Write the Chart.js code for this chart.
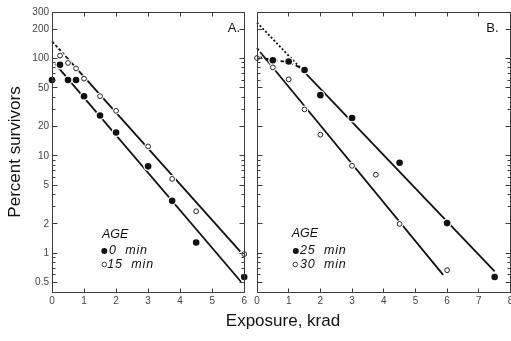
<!DOCTYPE html>
<html>
<head>
<meta charset="utf-8">
<script src="https://cdn.jsdelivr.net/npm/chart.js@4.4.0/dist/chart.umd.min.js"></script>
<style>
  html, body { margin: 0; padding: 0; background: #fff; overflow: hidden; }
  #wrap { position: relative; width: 511px; height: 341px; overflow: hidden; }
  #panelA { position: absolute; left: 0; top: 0; }
  #panelB { position: absolute; left: 250px; top: 0; }
  #xTitle {
    position: absolute; left: 183px; width: 200px; top: 311px;
    line-height: 20px; text-align: center; color: #111;
    font: 17px "Liberation Sans", Arial, sans-serif;
  }
</style>
</head>
<body>
<div id="wrap">
  <canvas id="panelA" width="250" height="341"></canvas>
  <canvas id="panelB" width="270" height="341"></canvas>
  <div id="xTitle">Exposure, krad</div>
</div>
<script>
// ---- values ----
// Panel A: age 0 min (filled) and 15 min (open)
const doseA0 = [0, 0.25, 0.5, 0.75, 1, 1.5, 2, 3, 3.75, 4.5, 6];
const survA0 = [60, 86, 60, 60, 41, 26, 17.4, 7.8, 3.45, 1.29, 0.57];
const doseA15 = [0.25, 0.5, 0.75, 1, 1.5, 2, 3, 3.75, 4.5, 6];
const survA15 = [107, 90, 79, 62, 41, 29, 12.5, 5.8, 2.7, 0.98];

// Panel B: age 25 min (filled) and 30 min (open)
const doseB25 = [0.5, 1, 1.5, 2, 3, 4.5, 6, 7.5];
const survB25 = [96, 93, 76, 42, 24.5, 8.5, 2.04, 0.57];
const doseB30 = [0, 0.5, 1, 1.5, 2, 3, 3.75, 4.5, 6];
const survB30 = [101, 81, 61, 30, 16.5, 7.9, 6.4, 2.0, 0.67];

// fitted lines (first segment dashed where the figure extrapolates)
const fitA0X = [0.1, 5.9];
const fitA0Y = [88, 0.51];
const fitA15X = [0, 0.45, 5.88];
const fitA15Y = [150, 103, 1.04];
const fitB25X = [0, 1.4, 7.5];
const fitB25Y = [234, 78, 0.65];
const shoulderB25X = [0, 0.5, 1, 1.45];
const shoulderB25Y = [105, 96, 92, 78];
const fitB30X = [0, 0.15, 5.875];
const fitB30Y = [128, 111, 0.6];

// axes
const yTickLabels = [0.5, 1, 2, 5, 10, 20, 50, 100, 200, 300];
const xTicksA = [0, 1, 2, 3, 4, 5, 6];
const xTicksB = [0, 1, 2, 3, 4, 5, 6, 7, 8];
const legendA = ['0 min', '15 min'];
const legendB = ['25 min', '30 min'];

const FONT = '"Liberation Sans", Arial, Helvetica, sans-serif';
const INK = '#111';

// log minor ticks at every integer multiple
const yTicks = [];
for (let e = -1; e <= 2; e++) {
    for (let m = 1; m <= 9; m++) {
        const v = +(m * Math.pow(10, e)).toPrecision(2);
        if (v >= 0.4 && v <= 300) yTicks.push(v);
    }
}

const pts = (xs, ys) => xs.map((x, i) => ({ x: x, y: ys[i] }));

function filledSet(xs, ys) {
    return { data: pts(xs, ys), pointRadius: 3.3, pointBackgroundColor: INK,
             pointBorderWidth: 0, showLine: false, clip: false, order: 0 };
}
function openSet(xs, ys) {
    return { data: pts(xs, ys), pointRadius: 2.4, pointBackgroundColor: '#fff',
             pointBorderColor: '#222', pointBorderWidth: 1, showLine: false, clip: false, order: 0 };
}
function haloSet(xs, ys, r) {
    return { data: pts(xs, ys), pointRadius: r, pointBackgroundColor: '#fff',
             pointBorderWidth: 0, showLine: false, clip: false, order: 1 };
}
function lineSet(xs, ys, firstDash, allDash) {
    return {
        data: pts(xs, ys), showLine: true, pointRadius: 0, borderColor: INK,
        borderWidth: 1.8, tension: 0, clip: false, order: 2,
        borderDash: allDash || [],
        segment: firstDash ? { borderDash: ctx => ctx.p0DataIndex === 0 ? firstDash : [] } : undefined
    };
}

// frame, inward ticks, panel letter and AGE legend
const decor = {
    id: 'decor',
    afterDatasetsDraw(chart, args, o) {
        const { ctx, chartArea: a } = chart;
        const xs = chart.scales.x, ys = chart.scales.y;
        const L = Math.floor(a.left) + 0.5, R = Math.floor(a.right) + 0.5;
        const T = Math.floor(a.top) + 0.5, B = Math.floor(a.bottom) + 0.5;
        ctx.save();
        ctx.strokeStyle = '#3c3c3c';
        ctx.lineWidth = 1;
        ctx.strokeRect(L, T, R - L, B - T);
        ctx.beginPath();
        ys.ticks.forEach(t => {
            const py = Math.floor(ys.getPixelForValue(t.value)) + 0.5;
            const len = yTickLabels.includes(t.value) ? 5 : 3;
            ctx.moveTo(L, py); ctx.lineTo(L + len, py);
            ctx.moveTo(R, py); ctx.lineTo(R - len, py);
        });
        xs.ticks.forEach(t => {
            if (t.value <= xs.min || t.value >= xs.max) return;
            const px = Math.floor(xs.getPixelForValue(t.value)) + 0.5;
            ctx.moveTo(px, B); ctx.lineTo(px, B - 4);
            ctx.moveTo(px, T); ctx.lineTo(px, T + 4);
        });
        ctx.stroke();

        ctx.fillStyle = INK;
        ctx.textBaseline = 'middle';
        ctx.textAlign = 'center';
        ctx.font = '13px ' + FONT;
        ctx.fillText(o.letter, o.letterX, o.letterY);

        ctx.textAlign = 'left';
        ctx.font = 'italic 12.5px ' + FONT;
        ctx.fillText('AGE', o.legX, o.legY);
        ctx.letterSpacing = '0.8px';
        o.labels.forEach((lab, i) => {
            const it = o.items[i];
            ctx.beginPath();
            if (i === 0) {
                ctx.arc(it.sx, it.y, 3, 0, Math.PI * 2);
                ctx.fill();
            } else {
                ctx.arc(it.sx, it.y, 2.3, 0, Math.PI * 2);
                ctx.stroke();
            }
            ctx.fillText(lab.replace(' ', '  '), it.tx, it.y);
        });
        ctx.restore();
    }
};

function makeChart(id, datasets, xMax, xTicks, isA, decorOpts) {
    return new Chart(document.getElementById(id), {
        type: 'scatter',
        data: { datasets: datasets },
        options: {
            responsive: false,
            animation: false,
            events: [],
            layout: { padding: { left: 0, right: isA ? 4.5 : 9.5, top: 12, bottom: 0 } },
            plugins: { legend: { display: false }, tooltip: { enabled: false }, decor: decorOpts },
            scales: {
                x: {
                    type: 'linear', min: 0, max: xMax,
                    afterBuildTicks: s => { s.ticks = xTicks.map(v => ({ value: v })); },
                    afterFit: s => { s.height = 49; },
                    grid: { display: false, drawTicks: false },
                    border: { display: false },
                    ticks: { autoSkip: false, padding: 3, color: '#444', font: { size: 10, family: FONT },
                             callback: v => String(v) }
                },
                y: {
                    type: 'logarithmic', min: 0.4, max: 300,
                    afterBuildTicks: s => { s.ticks = yTicks.map(v => ({ value: v })); },
                    afterFit: s => { s.width = isA ? 52 : 7; },
                    grid: { display: false, drawTicks: false },
                    border: { display: false },
                    ticks: { display: isA, autoSkip: false, padding: 3, color: '#444',
                             font: { size: 10, family: FONT },
                             callback: v => yTickLabels.includes(v) ? String(v) : '' },
                    title: { display: isA, text: 'Percent survivors', color: INK,
                             font: { size: 17, family: FONT }, padding: { top: 5, bottom: 0 } }
                }
            }
        },
        plugins: [decor]
    });
}

makeChart('panelA', [
    filledSet(doseA0, survA0),
    openSet(doseA15, survA15),
    haloSet(doseA0, survA0, 4.6),
    haloSet(doseA15, survA15, 3.8),
    lineSet(fitA0X, fitA0Y),
    lineSet(fitA15X, fitA15Y, [3, 2])
], 6, xTicksA, true, {
    letter: 'A.', letterX: 234, letterY: 28,
    legX: 102, legY: 234.5, labels: legendA,
    items: [{ sx: 104.3, tx: 109, y: 251 }, { sx: 104.3, tx: 107.3, y: 264.5 }]
});

makeChart('panelB', [
    filledSet(doseB25, survB25),
    openSet(doseB30, survB30),
    haloSet(doseB25, survB25, 4.6),
    haloSet(doseB30, survB30, 3.8),
    lineSet(fitB25X, fitB25Y, [2, 2]),
    lineSet(shoulderB25X, shoulderB25Y, null, [5, 3]),
    lineSet(fitB30X, fitB30Y, [3, 2])
], 8, xTicksB, false, {
    letter: 'B.', letterX: 242.5, letterY: 28.5,
    legX: 41.7, legY: 233.5, labels: legendB,
    items: [{ sx: 45.8, tx: 50, y: 251 }, { sx: 45.3, tx: 50, y: 264.5 }]
});
</script>
</body>
</html>
